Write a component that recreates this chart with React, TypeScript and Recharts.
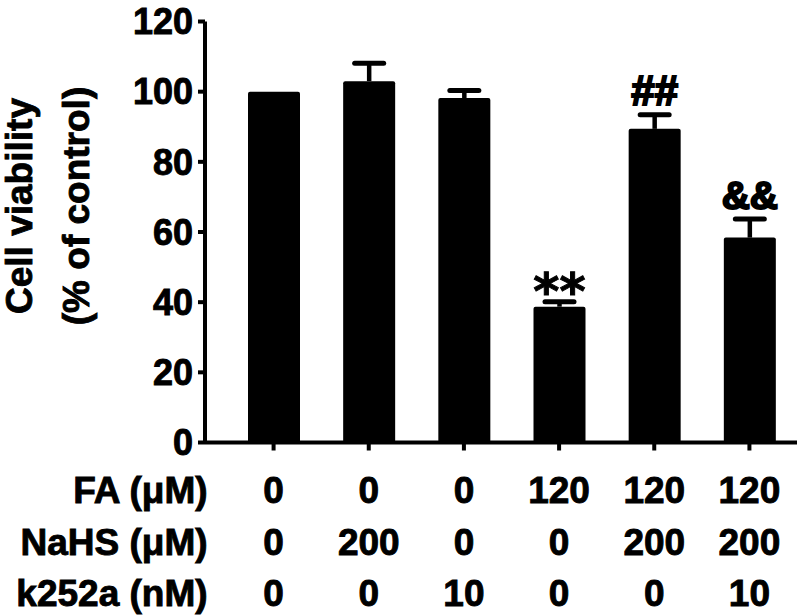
import { Bar, BarChart, LabelList, XAxis, YAxis } from "recharts";

const groups = ["G1", "G2", "G3", "G4", "G5", "G6"];
const viability = [100, 103, 98.2, 38.7, 89.4, 58.4];
const sem = [0, 5.1, 2.1, 1.4, 4, 5.3];
const marks = ["", "", "", "**", "##", "&&"];

const faValues = ["0", "0", "0", "120", "120", "120"];
const nahsValues = ["0", "200", "0", "0", "200", "200"];
const k252aValues = ["0", "0", "10", "0", "0", "10"];
const rowHeaders = ["FA (\u03bcM)", "NaHS (\u03bcM)", "k252a (nM)"];
const yTicks = [0, 20, 40, 60, 80, 100, 120];

const data = groups.map((g, i) => ({
  group: g,
  viability: viability[i],
  err: sem[i],
  mark: marks[i],
}));

const FONT = "'Liberation Sans', Arial, sans-serif";
const rows = [faValues, nahsValues, k252aValues];
const rowOffsets = [52.5, 104, 155];

// bold text, thickened a bit to look like the heavy original font
const heavy = { fontFamily: FONT, fontWeight: "bold", fill: "#000", stroke: "#000", strokeWidth: 0.9 };

const TableTick = (props: any) => {
  const { x, y, payload } = props;
  const i = payload.index;
  return (
    <g>
      {rows.map((vals, r) => (
        <text key={r} x={x} y={y + rowOffsets[r]} textAnchor="middle" fontSize={37} {...heavy}>
          {vals[i]}
        </text>
      ))}
      {i === 0 &&
        rowHeaders.map((h, r) => (
          <text key={h} x={x - 66} y={y + rowOffsets[r]} textAnchor="end" fontSize={37} {...heavy}>
            {h}
          </text>
        ))}
    </g>
  );
};

const BarWithError = (props: any) => {
  const { x, y, width, height, payload } = props;
  const perUnit = height / payload.viability;
  const top = y - payload.err * perUnit;
  const cx = x + width / 2;
  return (
    <g>
      <rect x={x} y={y} width={width} height={height} rx={2} fill="#000" />
      {payload.err > 0 && (
        <g stroke="#000">
          <line x1={cx} x2={cx} y1={y} y2={top} strokeWidth={4.5} />
          <line x1={cx - 14.5} x2={cx + 14.5} y1={top} y2={top} strokeWidth={5} strokeLinecap="round" />
        </g>
      )}
    </g>
  );
};

const MarkLabel = (props: any) => {
  const { x, y, width, height, index, value } = props;
  if (!value) return null;
  const perUnit = height / viability[index];
  const top = y - sem[index] * perUnit;
  const cx = x + width / 2;
  if (value === "**") {
    return (
      <text x={cx} y={top + 7} textAnchor="middle" fontFamily="'DejaVu Sans', sans-serif" fontWeight="bold" fontSize={50} fill="#000" stroke="#000" strokeWidth={1}>
        {value}
      </text>
    );
  }
  const size = value === "##" ? 42 : 39;
  return (
    <text x={cx} y={top - 10} textAnchor="middle" fontSize={size} {...heavy} strokeWidth={2}>
      {value}
    </text>
  );
};

const YTitle = () => (
  <g fontSize={37} {...heavy}>
    <text x={32} y={206} textAnchor="middle" transform="rotate(-90, 32, 206)">
      Cell viability
    </text>
    <text x={89} y={206} textAnchor="middle" transform="rotate(-90, 89, 206)">
      (% of control)
    </text>
  </g>
);

const App = () => {
  return (
    <div style={{ position: "absolute", left: 0, top: 0, width: 800, height: 616, background: "#fff" }}>
      <BarChart width={800} height={616} data={data} margin={{ top: 21.5, right: 3, left: 0, bottom: 0 }} barSize={52}>
        <XAxis
          dataKey="group"
          height={173.5}
          padding={{ left: 21, right: 0 }}
          axisLine={{ stroke: "#000", strokeWidth: 4 }}
          tickLine={{ stroke: "#000", strokeWidth: 4 }}
          tickSize={8}
          tickMargin={0}
          tick={<TableTick />}
          interval={0}
        />
        <YAxis
          width={205}
          domain={[0, 120]}
          ticks={yTicks}
          axisLine={{ stroke: "#000", strokeWidth: 4 }}
          tickLine={{ stroke: "#000", strokeWidth: 4 }}
          tickSize={7}
          tickMargin={5}
          tick={{ fontSize: 36, ...heavy }}
          label={<YTitle />}
        />
        <Bar dataKey="viability" fill="#000" shape={<BarWithError />} isAnimationActive={false}>
          <LabelList dataKey="mark" content={<MarkLabel />} />
        </Bar>
      </BarChart>
    </div>
  );
};

export default App;
